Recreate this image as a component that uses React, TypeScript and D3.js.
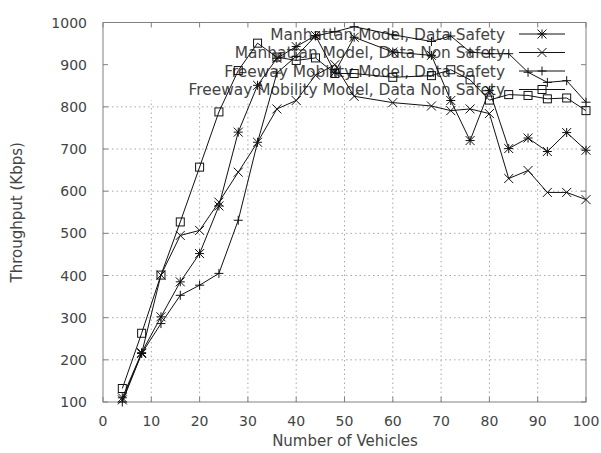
import * as d3 from "d3";

const vehicles = [4, 8, 12, 16, 20, 24, 28, 32, 36, 40, 44, 48, 52, 60, 68, 72, 76, 80, 84, 88, 92, 96, 100];

const manhattanSafety = [110, 217, 302, 385, 452, 565, 740, 851, 915, 943, 969, 882, 965, 930, 922, 815, 720, 839, 701, 726, 694, 739, 697];
const manhattanNonSafety = [105, 215, 401, 495, 507, 574, 645, 716, 795, 815, 875, 900, 825, 810, 802, 791, 795, 784, 630, 649, 597, 597, 580];
const freewaySafety = [100, 215, 286, 353, 377, 405, 531, 716, 880, 920, 968, 978, 990, 971, 955, 968, 930, 926, 926, 882, 858, 862, 811];
const freewayNonSafety = [132, 263, 401, 527, 657, 788, 886, 951, 918, 910, 916, 879, 879, 870, 874, 888, 864, 816, 829, 827, 819, 821, 791];

const seriesNames = [
  "Manhattan Model, Data Safety",
  "Manhattan Model, Data Non Safety",
  "Freeway Mobility Model, Data Safety",
  "Freeway Mobility Model, Data Non Safety",
];
const seriesMarkers = ["star", "cross", "plus", "square"];

const xTicks = [0, 10, 20, 30, 40, 50, 60, 70, 80, 90, 100];
const yTicks = [100, 200, 300, 400, 500, 600, 700, 800, 900, 1000];

const width = 601;
const height = 453;
const left = 103;
const right = 586;
const top = 22.5;
const bottom = 402;

const font = "DejaVu Sans, sans-serif";
const textColor = "#444";
const axisColor = "#808080";

function Marker({ type, x, y }: { type: string; x: number; y: number }) {
  const r = 4.5;
  if (type === "square") {
    return <rect x={x - 4} y={y - 4} width={8} height={8} fill="none" stroke="#111" strokeWidth={1} />;
  }
  const plus = `M${x - r},${y}H${x + r}M${x},${y - r}V${y + r}`;
  const cross = `M${x - r},${y - r}L${x + r},${y + r}M${x - r},${y + r}L${x + r},${y - r}`;
  let d = plus;
  if (type === "cross") d = cross;
  if (type === "star") d = plus + cross;
  return <path d={d} stroke="#111" strokeWidth={1} fill="none" />;
}

export default function App() {
  const xScale = d3.scaleLinear().domain([0, 100]).range([left, right]);
  const yScale = d3.scaleLinear().domain([100, 1000]).range([bottom, top]);

  const allSeries = [manhattanSafety, manhattanNonSafety, freewaySafety, freewayNonSafety];

  const line = d3
    .line<number>()
    .x((_, i) => xScale(vehicles[i]))
    .y((d) => yScale(d));

  // the key box hides the upper part of the grid
  const gridTop = 100;

  return (
    <svg
      width={width}
      height={height}
      viewBox={`0 0 ${width} ${height}`}
      style={{ position: "absolute", left: 0, top: 0, background: "#fff" }}
    >
      <rect x={0} y={0} width={width} height={height} fill="#fff" />

      {/* grid */}
      <g stroke="#a8a8a8" strokeWidth={1} strokeDasharray="1.5,3">
        {xTicks.slice(1, -1).map((t) => (
          <line key={"gx" + t} x1={xScale(t)} x2={xScale(t)} y1={bottom} y2={gridTop} />
        ))}
        {yTicks.filter((t) => t > 100 && t < 900).map((t) => (
          <line key={"gy" + t} x1={left} x2={right} y1={yScale(t)} y2={yScale(t)} />
        ))}
      </g>

      {/* border and ticks */}
      <rect x={left} y={top} width={right - left} height={bottom - top} fill="none" stroke={axisColor} strokeWidth={1} />
      <g stroke={axisColor} strokeWidth={1}>
        {xTicks.map((t) => (
          <g key={"tx" + t}>
            <line x1={xScale(t)} x2={xScale(t)} y1={bottom} y2={bottom - 5} />
            <line x1={xScale(t)} x2={xScale(t)} y1={top} y2={top + 5} />
          </g>
        ))}
        {yTicks.map((t) => (
          <g key={"ty" + t}>
            <line x1={left} x2={left + 5} y1={yScale(t)} y2={yScale(t)} />
            <line x1={right} x2={right - 5} y1={yScale(t)} y2={yScale(t)} />
          </g>
        ))}
      </g>

      {/* tick labels */}
      <g fontFamily={font} fontSize={14} fill={textColor}>
        {xTicks.map((t) => (
          <text key={"lx" + t} x={xScale(t)} y={426} textAnchor="middle">
            {t}
          </text>
        ))}
        {yTicks.map((t) => (
          <text key={"ly" + t} x={87} y={yScale(t) + 5} textAnchor="end">
            {t}
          </text>
        ))}
      </g>
      <g fontFamily={font} fontSize={15} fill={textColor}>
        <text x={(left + right) / 2 + 0.5} y={446} textAnchor="middle">
          Number of Vehicles
        </text>
        <text transform={`translate(22,${(top + bottom) / 2}) rotate(-90)`} textAnchor="middle">
          Throughput (Kbps)
        </text>
      </g>

      {/* key */}
      <g fontFamily={font} fontSize={15.4} fill={textColor}>
        {seriesNames.map((name, i) => {
          const cy = 34 + i * 18.5;
          return (
            <g key={name}>
              <text x={505} y={cy + 5.5} textAnchor="end">
                {name}
              </text>
              <line x1={519} x2={565} y1={cy} y2={cy} stroke="#111" strokeWidth={1} />
              <Marker type={seriesMarkers[i]} x={542} y={cy} />
            </g>
          );
        })}
      </g>

      {/* data */}
      {allSeries.map((values, s) => (
        <g key={"s" + s}>
          <path d={line(values) ?? ""} fill="none" stroke="#111" strokeWidth={1} />
          {values.map((v, i) => (
            <Marker key={i} type={seriesMarkers[s]} x={xScale(vehicles[i])} y={yScale(v)} />
          ))}
        </g>
      ))}
    </svg>
  );
}
